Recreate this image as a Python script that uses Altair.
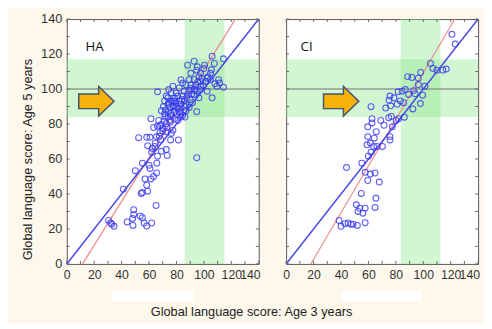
import altair as alt
import pandas as pd

# ---------------- data ----------------
HA_x = [30.5, 32, 32.9, 34.5, 41.2, 44, 48.8, 48.8, 48, 48.3, 50, 53.6, 55.2, 54.3, 55.2,
        56.4, 58.3, 61.9, 65.2, 57, 58.3, 59, 61.4, 63.3, 65.5, 55.2, 60, 60.7, 65.7, 61.9,
        64.3, 66.2, 69, 72.6, 73.3, 59, 52.4, 58.3, 60.7, 61.4, 65.5, 67.9, 70.2, 72.6, 75.7,
        76.2, 77.4, 81.4, 66.2, 63.3, 66.2, 69, 71, 67,
        74.3, 76.2, 72.6, 71.4, 73.8, 76.2, 78.6, 81, 83.3, 84.5, 82.1, 85.7, 88.1, 92.9,
        94.8, 90.5, 89.3, 92.9, 96.4, 97.6, 100.5, 106, 107.6, 114.3, 104.8, 101.2, 97.6,
        95.2, 92.9, 90.5, 88.1, 85.7, 83.3, 81, 78.6, 76.2, 73.8, 71.4, 69, 75, 77.4, 82.1,
        84.5, 86.9, 89.3, 91.7, 94.8, 94.8, 106, 104.8, 110.7, 109.5, 114.3, 111.4, 102.4,
        97.6, 96.4, 79.8, 77.4, 73.8, 78.6, 82.1, 84.5, 86.9, 90.5, 94, 97.6, 100, 95.2,
        102.4, 78.6, 75.7, 72.6, 81, 83.3, 86.2,
        70.5, 72, 74.5, 76, 78, 79.5, 80.5, 82.5, 84, 86, 87.5, 89, 91, 93, 95.5, 98.5,
        99.5, 103, 105.5, 108, 71.5, 74, 77, 80, 83, 87, 90, 93.5, 68, 70, 73, 75.5, 68.5,
        64.5, 67.5, 62.5]
HA_y = [24.9, 23.4, 22.7, 21.5, 42.7, 24, 31, 28.2, 26, 22, 53.3, 27.3, 26.4, 40.3, 40.8,
        23.4, 21.7, 23.4, 33.4, 48.6, 45, 41.6, 48.6, 50, 52, 57.6, 56.4, 54.6, 57.6, 63.9,
        67.2, 61.6, 64.4, 65.4, 62, 67.6, 72.2, 72.4, 72.4, 83, 72.8, 75, 77.4, 75.6, 70.9,
        74.6, 76.5, 70.9, 98.4, 78, 78.7, 79.8, 81.7, 82,
        99.7, 97.8, 96, 93.2, 91.3, 93.2, 94.7, 96, 105.3, 103.4, 100.6, 98.8, 113.6, 115.9,
        110.8, 109, 105.3, 105.3, 107.1, 109, 113.6, 118.8, 114.6, 117.3, 109, 104.3, 101.6,
        98.8, 96.9, 100.3, 96.9, 93.2, 91.3, 88.6, 86.7, 84.9, 83.9, 85.8, 87.6, 89.5, 90.4, 86.7,
        84.9, 87.6, 89.5, 92.2, 87, 60.7, 95, 105.3, 105.3, 101.6, 101, 103.4, 98.8,
        99.7, 95, 97.8, 101.6, 95, 93.2, 93.2, 96, 102.5, 102.5, 102.5, 104.3, 111.7, 112.7,
        106.2, 83, 82, 80.2, 82, 84, 84,
        90, 88, 92, 86, 90, 92, 85.5, 89, 94, 90, 95, 99, 97, 100, 104, 106,
        102, 107, 111, 103, 84, 87, 93, 90, 87, 91, 94, 99, 79, 76, 78, 81, 71, 69, 73, 66]

CI_x = [38.6, 40, 42.9, 45.2, 47.1, 48.8, 51.9, 44, 51.2, 52.4, 53.6, 56, 57.6, 57.6, 54.8,
        55.2, 57.6, 59.5, 61.4, 64.8, 67.9, 65.5, 64.8, 60, 61.9, 59, 61.4, 63.8, 66.2, 70.2,
        59.5, 64.3, 59.5, 62.6, 65.7, 62.6, 69, 61.9, 71.4, 75.7, 75.7, 77.4, 74.8, 76.7, 80.2,
        81.9, 72.6, 76.2, 81, 75.7, 75, 78.6, 81.7, 84.5, 86.9, 83.3, 85.7, 89.3, 86.2, 88.6,
        91.7, 96.4, 98.1, 92.9, 94, 99.5, 92.4, 97.9, 105.2, 107.1, 110, 114.3, 116.7, 120.9,
        123.3, 96.4, 101.2]
CI_y = [24.9, 21.5, 23, 23.4, 22.7, 22.7, 22, 55.1, 33.8, 30, 31.9, 29, 31.9, 23.6, 40.3,
        57.6, 52.4, 47.7, 51.4, 52, 46.8, 37.5, 32.3, 61.6, 63.9, 68.1, 69.1, 67.2, 67.2, 67.2,
        72.8, 71.9, 78.4, 80.6, 75.6, 83, 82, 89.9, 79.3, 70.9, 72.8, 78.4, 83.6, 84.3, 82,
        83, 89.1, 90.4, 91.3, 96, 93.6, 95, 98.4, 98.8, 99.7, 93.2, 92.2, 96.9, 83.9, 107.1,
        106.6, 106.2, 109.5, 99.1, 97.3, 96.5, 88.6, 91.7, 114.6, 111.8, 110.8, 110.8, 111.4, 131.3,
        125.7, 102.5, 101.6]

# reference lines (end points)
HA_red_x, HA_red_y = [11.5, 123], [0, 140]
CI_red_x, CI_red_y = [18, 123], [0, 140]
blue_x, blue_y = [0, 140], [0, 140]

# green bands (x1, x2, y1, y2)
HA_bands = [[86, 115, 0, 140], [0, 140, 84, 117]]
CI_bands = [[83.5, 112.5, 0, 140], [0, 140, 84, 117]]

# arrow centre and group labels
HA_arrow = [21.6, 93.0]
CI_arrow = [40.1, 93.0]
HA_label = ["HA", 13.6, 124]
CI_label = ["CI", 10.5, 124]
HA_blank = [32.9, 92.1]
CI_blank = [40, 98.6]

ticks = list(range(0, 141, 10))
labels = list(range(0, 141, 20))

W, H = 196, 250
FONT = "Liberation Sans"
ARROW = "M -1 -0.417 L 0.13 -0.417 L 0.13 -0.833 L 1 0 L 0.13 0.833 L 0.13 0.417 L -1 0.417 Z"

xs = alt.Scale(domain=[0, 140], nice=False)
ys = alt.Scale(domain=[0, 140], nice=False)


def panel(px, py, rx, ry, bands, arrow, label, blank, show_y):
    pts = pd.DataFrame({"x": px, "y": py})
    bdf = pd.DataFrame(bands, columns=["x1", "x2", "y1", "y2"])
    red = pd.DataFrame({"x": rx, "y": ry})
    blue = pd.DataFrame({"x": blue_x, "y": blue_y})
    tdf = pd.DataFrame({"t": ticks})

    xaxis = alt.Axis(values=labels, title=None, ticks=False, domain=False, grid=False,
                     labelFlush=False, labelOverlap=False, labelFont=FONT, labelFontSize=12.5,
                     labelColor="#333", labelPadding=5,
                     labelOffset={"expr": "datum.value == 140 ? -9 : 0"})
    if show_y:
        yaxis = alt.Axis(values=labels, title="Global language score: Age 5 years",
                         ticks=False, domain=False, grid=False, labelFlush=False,
                         labelOverlap=False,
                         labelFont=FONT, labelFontSize=13, labelColor="#333", labelPadding=5,
                         titleFont=FONT, titleFontSize=13, titleFontWeight="normal",
                         titleColor="#222", titlePadding=6, titleY=143)
    else:
        yaxis = alt.Axis(values=labels, title=None, labels=False, ticks=False,
                         domain=False, grid=False)

    X = lambda f: alt.X(f, scale=xs, axis=xaxis)
    Y = lambda f: alt.Y(f, scale=ys, axis=yaxis)

    band = alt.Chart(bdf).mark_rect(color="#8ee88e", opacity=0.4).encode(
        x=X("x1:Q"), x2="x2", y=Y("y1:Q"), y2="y2")
    hline = alt.Chart(pd.DataFrame({"y": [100]})).mark_rule(
        color="#888", strokeWidth=1.5, opacity=0.8).encode(
        y=Y("y:Q"), x=alt.value(0), x2=alt.value(W))
    redl = alt.Chart(red).mark_line(color="#f08a8a", strokeWidth=1.2, clip=True).encode(
        x=X("x:Q"), y=Y("y:Q"))
    bluel = alt.Chart(blue).mark_line(color="#4a4ae6", strokeWidth=1.5).encode(
        x=X("x:Q"), y=Y("y:Q"))
    points = alt.Chart(pts).mark_point(shape="circle", filled=False, color="#3a3af0",
                                       size=36, strokeWidth=1.1, opacity=0.8).encode(
        x=X("x:Q"), y=Y("y:Q"))
    arr = alt.Chart(pd.DataFrame({"x": [arrow[0]], "y": [arrow[1]]})).mark_point(
        shape=ARROW, filled=True, fill="#f7b20a", stroke="#45536e", strokeWidth=1.5,
        size=1296, opacity=1).encode(x=X("x:Q"), y=Y("y:Q"))
    txt = alt.Chart(pd.DataFrame({"t": [label[0]], "x": [label[1]], "y": [label[2]]})).mark_text(
        align="left", baseline="middle", font="Open Sans", fontSize=13.5, color="#111").encode(
        x=X("x:Q"), y=Y("y:Q"), text="t:N")
    tb = alt.Chart(tdf).mark_rule(color="#666").encode(
        x=X("t:Q"), y=alt.value(H), y2=alt.value(H - 3))
    tt = alt.Chart(tdf).mark_rule(color="#666").encode(
        x=X("t:Q"), y=alt.value(0), y2=alt.value(3))
    tl = alt.Chart(tdf).mark_rule(color="#666").encode(
        y=Y("t:Q"), x=alt.value(0), x2=alt.value(3))
    tr = alt.Chart(tdf).mark_rule(color="#666").encode(
        y=Y("t:Q"), x=alt.value(W - 3), x2=alt.value(W))
    blk = alt.Chart(pd.DataFrame({"a": [blank[0]], "b": [blank[1]]})).mark_rect(
        color="white").encode(x=X("a:Q"), x2="b",
                              y=alt.value(H + 27), y2=alt.value(H + 38))
    return alt.layer(band, hline, redl, bluel, points, arr, txt, tb, tt, tl, tr, blk).properties(
        width=W, height=H)


p1 = panel(HA_x, HA_y, HA_red_x, HA_red_y, HA_bands, HA_arrow, HA_label, HA_blank, True)
p2 = panel(CI_x, CI_y, CI_red_x, CI_red_y, CI_bands, CI_arrow, CI_label, CI_blank, False)

chart = alt.hconcat(p1, p2, spacing=20).properties(
    background="#fdf8eb",
    padding={"left": 13, "top": 1, "right": 2, "bottom": 0},
    title=alt.TitleParams("Global language score: Age 3 years", orient="bottom",
                          anchor="middle", font=FONT, fontSize=13, fontWeight="normal",
                          color="#222", offset=5),
).configure_view(stroke="#555", strokeWidth=1, fill="white").configure_axis(
    labelOverlap=False, labelFlush=False)

chart.save("out.html", embed_options={"renderer": "svg", "actions": False})
